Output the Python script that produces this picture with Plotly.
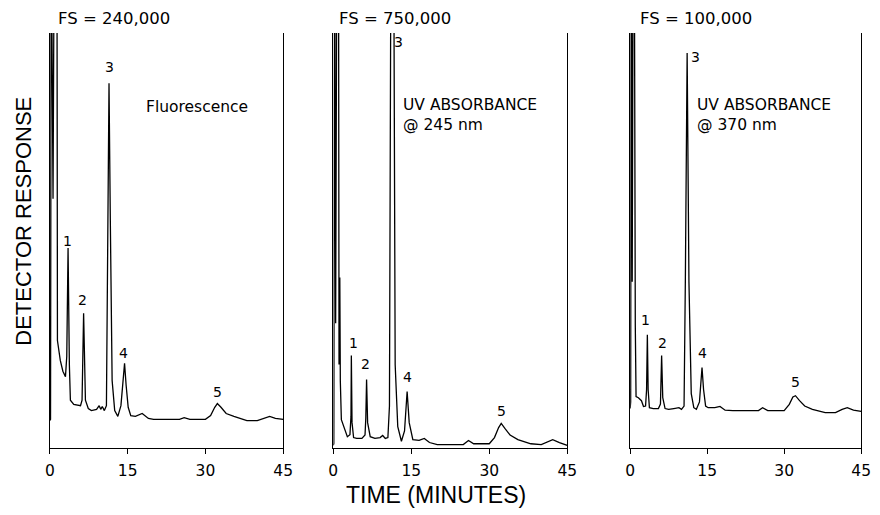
import plotly.graph_objects as go

# ---------------- data (time in minutes, response in % of full scale) -------------
fluor_t = [0, 0.12, 0.25, 0.6, 0.85, 1.35, 1.45, 2.0, 2.5, 3.0, 3.25, 3.5, 3.75, 3.95,
           4.6, 5.9, 6.2, 6.5, 6.85, 7.4, 8.0, 9.0, 9.5, 9.8, 10.1, 10.5, 10.9, 11.15,
           11.4, 11.65, 12.0, 12.5, 13.1, 13.7, 14.1, 14.4, 14.7, 15.1, 15.6, 16.5,
           17.8, 19, 20, 25, 25.9, 27, 30, 31, 31.8, 32.3, 33, 34, 35.5, 38, 40, 41.5,
           42.4, 43.5, 45]
fluor_y = [6.5, 6.8, 130, 60, 130, 130, 25.8, 21.0, 18.4, 17.1, 22, 48.1, 20, 11.4,
           10.4, 10.1, 11.4, 32.4, 11.4, 9.4, 8.9, 9.2, 10.1, 9.2, 9.9, 8.9, 10.1, 60,
           87.9, 55, 16.2, 8.9, 7.5, 10.1, 16.2, 20.3, 15, 9.7, 7.7, 7.5,
           8.2, 7.0, 6.8, 6.8, 7.2, 6.8, 6.8, 7.7, 9.7, 10.6, 9.7, 8.2, 7.5, 6.5, 6.5, 7.2,
           7.5, 7.0, 6.8]

uv245_t = [0, 0.1, 0.25, 0.45, 0.7, 1.0, 1.1, 1.25, 1.35, 1.55, 2.1, 2.7, 3.2, 3.4,
           3.47, 3.6, 3.9, 4.5, 5.5, 6.1, 6.25, 6.4, 6.6, 7.1, 8, 9, 9.5, 10, 10.5,
           10.8, 11.1, 11.6, 11.9, 12.4, 13.1, 13.7, 14.2, 14.6, 15.3, 16.5, 17.5,
           18.5, 20, 25, 26, 27, 30, 31, 31.8, 32.3, 33, 34, 35.5, 38, 40, 41.3, 42.2,
           43.5, 45]
uv245_y = [0.5, 1.0, 130, 30, 130, 130, 20, 41, 16, 6.7, 4.6, 2.6, 3.1, 7.5,
           22.2, 6, 2.4, 2.2, 2.2, 3, 7, 16.4, 6, 2.6, 2.2, 2.4, 2.9, 2.2, 2.4,
           10, 130, 130, 20, 5, 1.5, 4, 13.5, 6, 1.9, 1.7, 2.2,
           1.2, 0.7, 0.7, 1.7, 0.9, 0.9, 2.4, 4.8, 5.8, 4.6, 3.0, 1.9, 0.9, 0.7, 1.5, 1.9,
           1.2, 0.5]

uv370_t = [0, 0.1, 0.2, 0.4, 0.6, 0.8, 0.9, 1.0, 1.15, 1.6, 2.2, 2.6, 3.0, 3.2, 3.35,
           3.5, 3.75, 4.5, 5.5, 5.9, 6.13, 6.35, 6.8, 7.5, 8.5, 9.5, 10, 10.5, 10.75,
           11.1, 11.45, 11.9, 12.4, 12.9, 13.5, 13.8, 14.0, 14.3, 14.7, 15.2, 16.5,
           17.5, 18.5, 20, 25, 25.8, 26.8, 30, 31, 31.7, 32.2, 33, 34, 35.5, 38, 40,
           41.3, 42.3, 43.5, 45]
uv370_y = [9.4, 11, 130, 40, 130, 130, 29.6, 29.6, 12.3, 12.0, 11.3, 9.9, 10, 14, 27.2,
           14, 9.6, 9.4, 9.4, 10.5, 22.2, 12, 9.4, 9.2, 9.4, 9.6, 9.2, 10, 40,
           95.2, 40, 13, 9.6, 9.2, 11, 15, 19.3, 14, 10, 9.6, 9.6,
           9.9, 9.0, 8.9, 8.9, 9.6, 8.9, 8.9, 10.4, 12.2, 12.5, 11.3, 10, 9.2, 8.4, 8.4,
           9.2, 9.6, 9.0, 8.7]

full_scale = ["FS = 240,000", "FS = 750,000", "FS = 100,000"]
detector_lines = [["Fluorescence"], ["UV ABSORBANCE", "@ 245 nm"], ["UV ABSORBANCE", "@ 370 nm"]]
detector_t = [18.2, 13.0, 12.6]
detector_y = [[82.1], [82.6, 77.8], [82.6, 77.8]]

peak_names = ["1", "2", "3", "4", "5"]
label_t = [[3.3, 6.3, 11.4, 14.2, 32.4],
           [3.8, 6.2, 12.5, 14.2, 32.3],
           [2.9, 6.3, 12.8, 14.0, 32.2]]
label_y = [[49.8, 35.7, 91.8, 22.9, 13.5],
           [25.3, 20.2, 97.8, 16.9, 8.9],
           [30.8, 25.1, 94.2, 22.9, 15.7]]

tick_vals = [0, 15, 30, 45]
tick_text = ["0", "15", "30", "45"]

# ---------------- figure ----------------
W, H = 880, 515
x_domains = [[45.7 / W, 283 / W], [334 / W, 572 / W], [636 / W, 871 / W]]
y_domain = [1 - 447.5 / H, 1 - 33 / H]
fs_left = [52, 338, 644]

series = [(fluor_t, fluor_y), (uv245_t, uv245_y), (uv370_t, uv370_y)]
font_main = "DejaVu Sans"

fig = go.Figure()
annotations = []
for i, (t, y) in enumerate(series):
    sfx = "" if i == 0 else str(i + 1)
    fig.add_trace(go.Scatter(x=t, y=y, mode="lines",
                             line=dict(color="black", width=1.3),
                             xaxis="x" + sfx, yaxis="y" + sfx,
                             showlegend=False, hoverinfo="skip"))
    fig.layout["xaxis" + sfx] = dict(
        domain=x_domains[i], range=[0, 45], anchor="y" + sfx,
        showline=True, linecolor="black", linewidth=1.3, showgrid=False,
        zeroline=False, ticks="outside", ticklen=5, tickwidth=1.2,
        tickcolor="black", tickvals=tick_vals, ticktext=tick_text,
        tickfont=dict(family=font_main, size=15.5, color="black"),
        ticklabelstandoff=4, fixedrange=True)
    fig.layout["yaxis" + sfx] = dict(
        domain=y_domain, range=[0, 100], anchor="x" + sfx,
        showline=True, mirror=True, linecolor="black", linewidth=1.3,
        showgrid=False, zeroline=False, showticklabels=False, ticks="",
        fixedrange=True)
    xr, yr = "x" + sfx, "y" + sfx
    for name, lt, ly in zip(peak_names, label_t[i], label_y[i]):
        annotations.append(dict(x=lt, y=ly, xref=xr, yref=yr, text=name,
                                showarrow=False, xanchor="center", yanchor="middle",
                                font=dict(family=font_main, size=14, color="black")))
    for line, ly in zip(detector_lines[i], detector_y[i]):
        annotations.append(dict(x=detector_t[i], y=ly, xref=xr, yref=yr, text=line,
                                showarrow=False, xanchor="left", yanchor="middle",
                                font=dict(family=font_main, size=15.5, color="black")))
    annotations.append(dict(x=fs_left[i] / W, y=1 - 18 / H, xref="paper", yref="paper",
                            text=full_scale[i], showarrow=False,
                            xanchor="left", yanchor="middle",
                            font=dict(family=font_main, size=16.5, color="black")))

annotations.append(dict(x=18 / W, y=1 - 221 / H, xref="paper", yref="paper",
                        text="DETECTOR RESPONSE", textangle=-90, showarrow=False,
                        xanchor="center", yanchor="middle",
                        font=dict(family="Liberation Sans", size=22, color="black")))
annotations.append(dict(x=438 / W, y=1 - 495 / H, xref="paper", yref="paper",
                        text="TIME (MINUTES)", showarrow=False,
                        xanchor="center", yanchor="middle",
                        font=dict(family="Liberation Sans", size=23, color="black")))

fig.update_layout(width=W, height=H, margin=dict(l=0, r=0, t=0, b=0),
                  paper_bgcolor="white", plot_bgcolor="white",
                  annotations=annotations, showlegend=False)

fig.write_html("out.html", config={"displayModeBar": False})
